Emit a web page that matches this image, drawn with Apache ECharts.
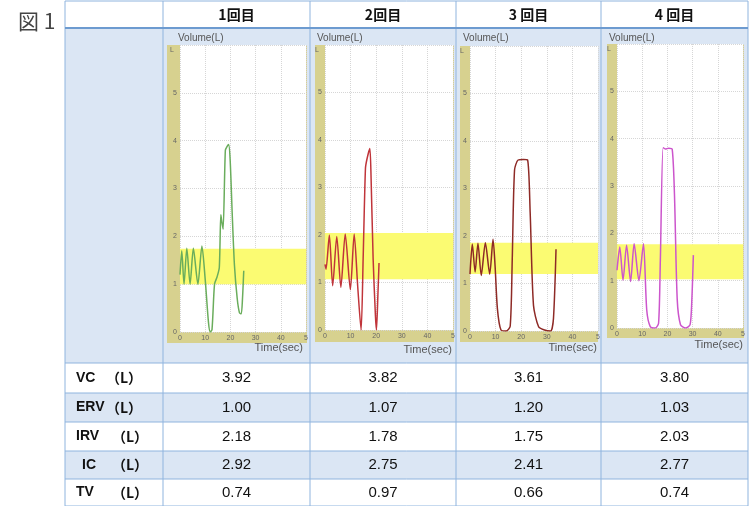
<!DOCTYPE html>
<html>
<head>
<meta charset="utf-8">
<script src="https://cdn.jsdelivr.net/npm/echarts@6/dist/echarts.min.js"></script>
<style>
html, body { margin: 0; padding: 0; background: #fff; }
#chart { width: 751px; height: 506px; }
</style>
</head>
<body>
<div id="chart"></div>
<script>
// table data
const trials = ['1回目', '2回目', '3 回目', '4 回目']
const rowNames = ['VC', 'ERV', 'IRV', 'IC', 'TV']
const vc = [3.92, 3.82, 3.61, 3.80]
const erv = [1.00, 1.07, 1.20, 1.03]
const irv = [2.18, 1.78, 1.75, 2.03]
const ic = [2.92, 2.75, 2.41, 2.77]
const tv = [0.74, 0.97, 0.66, 0.74]

// spirogram traces (sec, L)
const time1 = [0, 0.7, 1.6, 2.7, 4.0, 5.3, 7.1, 8.7, 10.0, 11.3, 12.0, 12.7, 13.7, 14.7, 15.6, 16.2, 16.6, 17.1, 18.0, 18.7, 19.3, 19.9, 20.7, 21.6, 22.7, 23.6, 24.3, 24.8, 25.3]
const vol1 = [1.2, 1.7, 1.0, 1.75, 1.0, 1.75, 1.0, 1.8, 1.1, 0.2, 0.0, 0.05, 1.0, 1.15, 1.35, 2.45, 2.3, 2.15, 3.8, 3.88, 3.92, 3.6, 2.5, 1.4, 0.7, 0.4, 0.38, 0.7, 1.28]
const time2 = [0, 0.4, 1.7, 3.0, 4.6, 6.2, 7.9, 9.9, 11.4, 12.8, 14.1, 14.9, 15.8, 16.4, 17.5, 18.0, 18.8, 19.7, 20.1, 20.7, 21.1]
const vol2 = [1.38, 1.28, 2.0, 0.93, 1.97, 0.9, 2.02, 0.85, 2.02, 0.9, 0.0, 1.5, 3.4, 3.6, 3.82, 3.2, 1.5, 0.3, 0.0, 0.8, 1.41]
const time3 = [0, 0.9, 2.0, 3.1, 4.4, 6.0, 7.7, 9.0, 9.8, 10.7, 12.1, 14.1, 15.7, 16.5, 17.4, 18.8, 20.8, 22.5, 23.5, 24.8, 26.8, 29.1, 31.5, 32.6, 33.6]
const vol3 = [1.2, 1.83, 1.24, 1.85, 1.17, 1.86, 1.2, 1.93, 1.37, 0.47, 0.02, 0.0, 0.1, 1.5, 3.39, 3.6, 3.61, 3.6, 2.5, 0.54, 0.09, 0.02, 0.0, 0.26, 1.72]
const time4 = [0, 1.1, 2.4, 3.8, 5.4, 6.8, 8.7, 10.5, 11.8, 13.2, 15.2, 16.5, 17.2, 18.3, 19.2, 20.5, 21.9, 22.8, 23.9, 25.2, 27.2, 29.0, 29.7, 30.3]
const vol4 = [1.22, 1.71, 1.01, 1.75, 0.98, 1.78, 1.0, 1.78, 0.38, 0.03, 0.0, 0.1, 1.43, 3.81, 3.78, 3.8, 3.78, 2.83, 0.6, 0.07, 0.0, 0.07, 0.6, 1.54]

const times = [time1, time2, time3, time4]
const vols = [vol1, vol2, vol3, vol4]
const lineColors = ['#6aad5c', '#c0343a', '#8e2a26', '#cc55cc']

// layout
const colX = [65, 163, 310, 456, 601, 748]
const rowY = [1, 28, 363, 393, 422, 451, 479, 506]
const blue = '#dbe6f4'
const border = '#8fb4de'
const frames = [
  { box: [167, 45, 307, 343], plot: [180, 45, 306, 332], vol: 178, time: [303, 348] },
  { box: [315, 45, 454, 342], plot: [325, 45, 453, 330], vol: 317, time: [452, 350] },
  { box: [460, 46, 598, 342], plot: [470, 46, 598, 331], vol: 463, time: [597, 348] },
  { box: [607, 44, 744, 338], plot: [617, 44, 743, 328], vol: 609, time: [743, 345] }
]
const labelX = [[76, 106], [76, 106], [76, 112], [82, 112], [76, 112]]

const graphic = []
// cell fills
const fills = ['#fff', blue, '#fff', blue, '#fff', blue, '#fff']
fills.forEach((c, i) => {
  graphic.push({
    type: 'rect', z: -5,
    shape: { x: colX[0], y: rowY[i], width: colX[5] - colX[0], height: rowY[i + 1] - rowY[i] },
    style: { fill: c }
  })
})
// olive frames
frames.forEach(f => {
  graphic.push({
    type: 'rect', z: -4,
    shape: { x: f.box[0], y: f.box[1], width: f.box[2] - f.box[0], height: f.box[3] - f.box[1] },
    style: { fill: '#d7d18f' }
  })
})
// borders
colX.forEach(x => {
  graphic.push({ type: 'line', z: 20, shape: { x1: x, y1: rowY[0], x2: x, y2: 506 }, style: { stroke: border, lineWidth: 1 } })
})
rowY.forEach((y, i) => {
  graphic.push({
    type: 'line', z: 20,
    shape: { x1: colX[0], y1: y, x2: colX[5], y2: y },
    style: { stroke: i === 1 ? '#6d9bd0' : border, lineWidth: i === 1 ? 2 : 1 }
  })
})
// title
graphic.push({ type: 'text', z: 20, style: { text: '図 1', x: 18, y: 21, verticalAlign: 'middle', font: '21px "Noto Sans CJK JP"', fill: '#444' } })
// headers
trials.forEach((t, i) => {
  graphic.push({
    type: 'text', z: 20,
    style: { text: t, x: (colX[i + 1] + colX[i + 2]) / 2, y: 15, align: 'center', verticalAlign: 'middle', font: 'bold 14px "Noto Sans CJK JP"', fill: '#111' }
  })
})
// row labels and values
const rows = [vc, erv, irv, ic, tv]
rows.forEach((vals, r) => {
  const cy = (rowY[r + 2] + rowY[r + 3]) / 2
  graphic.push({ type: 'text', z: 20, style: { text: rowNames[r], x: labelX[r][0], y: cy, verticalAlign: 'middle', font: 'bold 14px "Liberation Sans"', fill: '#111' } })
  graphic.push({ type: 'text', z: 20, style: { text: '（L）', x: labelX[r][1], y: cy, verticalAlign: 'middle', font: 'bold 14px "Noto Sans CJK JP"', fill: '#111' } })
  vals.forEach((v, i) => {
    graphic.push({
      type: 'text', z: 20,
      style: { text: v.toFixed(2), x: (colX[i + 1] + colX[i + 2]) / 2, y: cy, align: 'center', verticalAlign: 'middle', font: '15px "Liberation Sans"', fill: '#111' }
    })
  })
})
// chart captions
frames.forEach(f => {
  graphic.push({ type: 'text', z: 20, style: { text: 'Volume(L)', x: f.vol, y: 38, verticalAlign: 'middle', font: '10px "Liberation Sans"', fill: '#555' } })
  graphic.push({ type: 'text', z: 20, style: { text: 'Time(sec)', x: f.time[0], y: f.time[1], align: 'right', verticalAlign: 'middle', font: '11px "Liberation Sans"', fill: '#555' } })
})

const dotted = { show: true, lineStyle: { color: '#d6d6d6', type: 'dotted', width: 1 } }

const option = {
  animation: false,
  backgroundColor: '#fff',
  graphic: graphic,
  grid: frames.map(f => ({
    left: f.plot[0], top: f.plot[1],
    width: f.plot[2] - f.plot[0], height: f.plot[3] - f.plot[1],
    show: true, backgroundColor: '#fff', borderWidth: 0
  })),
  xAxis: frames.map((f, i) => ({
    type: 'value', gridIndex: i, min: 0, max: 50, interval: 10,
    axisLine: { show: false }, axisTick: { show: false },
    axisLabel: { fontSize: 7, color: '#666', margin: 3, formatter: v => v === 50 ? '5' : String(v) },
    splitLine: dotted
  })),
  yAxis: frames.map((f, i) => ({
    type: 'value', gridIndex: i, min: 0, max: 6, interval: 1,
    name: 'L', nameLocation: 'end', nameGap: -9,
    nameTextStyle: { fontSize: 7, color: '#666', align: 'right', padding: [0, 6, 0, 0] },
    axisLine: { show: false }, axisTick: { show: false },
    axisLabel: { fontSize: 7, color: '#666', margin: 3, formatter: v => v === 6 ? '' : String(v) },
    splitLine: dotted
  })),
  series: vols.map((vol, i) => ({
    type: 'line', xAxisIndex: i, yAxisIndex: i,
    data: vol.map((v, k) => [times[i][k], v]),
    showSymbol: false, smooth: 0.25,
    lineStyle: { color: lineColors[i], width: 1.5 },
    markArea: {
      silent: true,
      itemStyle: { color: '#fbfb72' },
      data: [[{ yAxis: erv[i] }, { yAxis: +(erv[i] + tv[i]).toFixed(2) }]]
    }
  }))
}

const chart = echarts.init(document.getElementById('chart'))
chart.setOption(option)
window.addEventListener('resize', () => chart.resize())
</script>
</body>
</html>
